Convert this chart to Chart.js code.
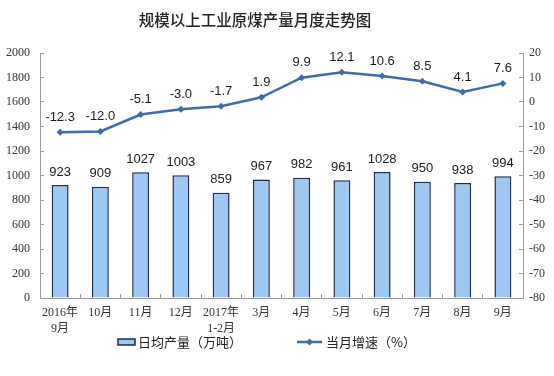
<!DOCTYPE html>
<html>
<head>
<meta charset="utf-8">
<script src="https://cdn.jsdelivr.net/npm/chart.js@4.4.1/dist/chart.umd.min.js"></script>
<style>
  html, body { margin: 0; padding: 0; background: #fff; }
  #wrap { width: 554px; height: 376px; }
</style>
</head>
<body>
<div id="wrap"><canvas id="coalChart" width="554" height="376"></canvas></div>
<script>
const categories = [["2016年", "9月"], "10月", "11月", "12月", ["2017年", "1-2月"], "3月", "4月", "5月", "6月", "7月", "8月", "9月"];
const dailyOutput = [923, 909, 1027, 1003, 859, 967, 982, 961, 1028, 950, 938, 994];
const growthRate = [-12.3, -12.0, -5.1, -3.0, -1.7, 1.9, 9.9, 12.1, 10.6, 8.5, 4.1, 7.6];
const seriesNames = ["日均产量（万吨）", "当月增速（%）"];
const chartTitle = "规模以上工业原煤产量月度走势图";

const BAR_FILL = "#9cc8f3";
const BAR_EDGE = "#1c2b4a";
const LINE_COLOR = "#3d6ca8";
const AXIS_COLOR = "#9a9a9a";
const SERIF = "'Liberation Serif', 'Noto Sans CJK SC', serif";
const SANS = "'Liberation Sans', Arial, sans-serif";
const CJK = "'Noto Sans CJK SC', sans-serif";

// numbers above bars and line points
const valueLabels = {
  id: "valueLabels",
  afterDatasetsDraw(chart) {
    const ctx = chart.ctx;
    ctx.save();
    ctx.font = "13px " + SANS;
    ctx.fillStyle = "#1a1a1a";
    ctx.textAlign = "center";
    ctx.textBaseline = "middle";
    chart.data.datasets.forEach((ds, i) => {
      const meta = chart.getDatasetMeta(i);
      meta.data.forEach((el, j) => {
        const v = ds.data[j];
        const txt = ds.type === "line" ? v.toFixed(1) : String(v);
        const off = ds.type === "line" ? 15 : 13;
        ctx.fillText(txt, el.x, el.y - off);
      });
    });
    ctx.restore();
  }
};

// title (sits a little left of centre in the original) and legend row
const decorations = {
  id: "decorations",
  afterDraw(chart) {
    const ctx = chart.ctx;
    ctx.save();
    ctx.font = "500 15.5px " + CJK;
    ctx.fillStyle = "#222";
    ctx.textAlign = "center";
    ctx.textBaseline = "middle";
    ctx.fillText(chartTitle, 255, 20);

    const y = 342;
    ctx.fillStyle = BAR_FILL;
    ctx.strokeStyle = BAR_EDGE;
    ctx.lineWidth = 1.5;
    ctx.fillRect(118, y - 3, 17, 6);
    ctx.strokeRect(118, y - 3, 17, 6);

    ctx.strokeStyle = LINE_COLOR;
    ctx.lineWidth = 2.5;
    ctx.beginPath();
    ctx.moveTo(297, y);
    ctx.lineTo(322, y);
    ctx.stroke();
    ctx.fillStyle = LINE_COLOR;
    ctx.beginPath();
    ctx.moveTo(309.5, y - 3.5);
    ctx.lineTo(313, y);
    ctx.lineTo(309.5, y + 3.5);
    ctx.lineTo(306, y);
    ctx.closePath();
    ctx.fill();

    ctx.font = "13px " + CJK;
    ctx.fillStyle = "#222";
    ctx.textAlign = "left";
    ctx.fillText(seriesNames[0], 138, y);
    ctx.fillText(seriesNames[1], 326, y);
    ctx.restore();
  }
};

const plain = (v) => String(v);

new Chart(document.getElementById("coalChart"), {
  data: {
    labels: categories,
    datasets: [
      {
        type: "line",
        label: seriesNames[1],
        data: growthRate,
        yAxisID: "y1",
        borderColor: LINE_COLOR,
        backgroundColor: LINE_COLOR,
        borderWidth: 2.5,
        pointStyle: "rectRot",
        pointRadius: 3.5,
        pointBorderWidth: 0,
        tension: 0,
        order: 0
      },
      {
        type: "bar",
        label: seriesNames[0],
        data: dailyOutput,
        yAxisID: "y",
        backgroundColor: BAR_FILL,
        borderColor: BAR_EDGE,
        borderWidth: 1.5,
        categoryPercentage: 1,
        barPercentage: 0.42,
        order: 1
      }
    ]
  },
  options: {
    responsive: false,
    animation: false,
    devicePixelRatio: 1,
    layout: { padding: { left: 0, right: 0, top: 53, bottom: 38 } },
    plugins: {
      legend: { display: false },
      tooltip: { enabled: false },
      title: { display: false }
    },
    scales: {
      x: {
        offset: true,
        grid: { offset: true, drawOnChartArea: false, color: AXIS_COLOR, tickLength: -4 },
        border: { color: AXIS_COLOR, width: 1 },
        ticks: { color: "#333", font: { family: SERIF, size: 12, lineHeight: 1.35 }, padding: 11, maxRotation: 0, autoSkip: false },
        afterFit: (s) => { s.height = 40; }
      },
      y: {
        position: "left",
        min: 0,
        max: 2000,
        grid: { drawOnChartArea: false, color: AXIS_COLOR, tickLength: -4 },
        border: { color: AXIS_COLOR, width: 1 },
        ticks: { stepSize: 200, color: "#333", font: { family: SERIF, size: 12 }, padding: 14, callback: plain },
        afterFit: (s) => { s.width = 40; }
      },
      y1: {
        position: "right",
        min: -80,
        max: 20,
        grid: { drawOnChartArea: false, color: AXIS_COLOR, tickLength: -4 },
        border: { color: AXIS_COLOR, width: 1 },
        ticks: { stepSize: 10, color: "#333", font: { family: SERIF, size: 12 }, padding: 10, callback: plain },
        afterFit: (s) => { s.width = 31; }
      }
    }
  },
  plugins: [valueLabels, decorations]
});
</script>
</body>
</html>
